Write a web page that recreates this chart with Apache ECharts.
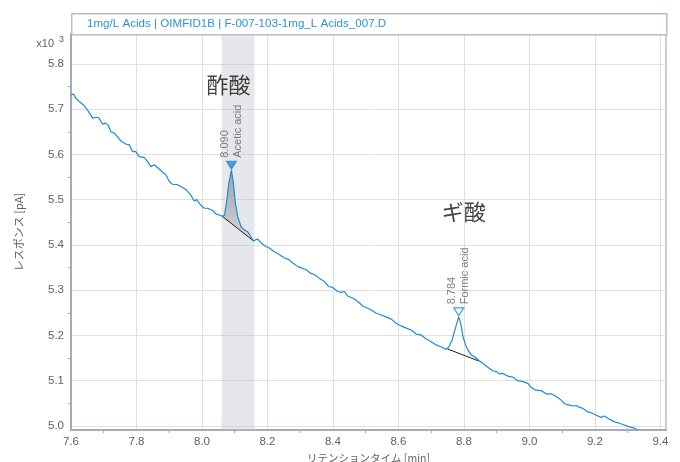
<!DOCTYPE html>
<html>
<head>
<meta charset="utf-8">
<script src="https://cdn.jsdelivr.net/npm/echarts@6/dist/echarts.min.js"></script>
<style>
  html, body { margin: 0; padding: 0; background: #ffffff; }
  #chart { width: 680px; height: 462px; }
</style>
</head>
<body>
<div id="chart"></div>
<script>
// FID chromatogram, 1mg/L acids standard (response in pA x10^3)
const retentionTime = [
  7.600, 7.608, 7.615, 7.625, 7.640, 7.653, 7.666, 7.679, 7.686, 7.696,
  7.706, 7.714, 7.722, 7.732, 7.742, 7.752, 7.767, 7.778, 7.788, 7.798,
  7.808, 7.824, 7.834, 7.844, 7.854, 7.864, 7.879, 7.890, 7.900, 7.910,
  7.925, 7.941, 7.951, 7.966, 7.976, 7.984, 7.996, 8.007, 8.017, 8.033,
  8.043, 8.053, 8.062, 8.069, 8.076, 8.082, 8.090, 8.096, 8.102, 8.109,
  8.120, 8.130, 8.140, 8.150, 8.157, 8.170, 8.181, 8.196, 8.206, 8.221,
  8.237, 8.252, 8.267, 8.277, 8.293, 8.308, 8.318, 8.333, 8.344, 8.359,
  8.374, 8.387, 8.399, 8.405, 8.415, 8.425, 8.435, 8.445, 8.461, 8.476,
  8.491, 8.506, 8.517, 8.532, 8.547, 8.562, 8.578, 8.593, 8.608, 8.624,
  8.639, 8.654, 8.669, 8.685, 8.700, 8.715, 8.730, 8.746, 8.754, 8.764,
  8.775, 8.784, 8.790, 8.797, 8.805, 8.812, 8.822, 8.832, 8.847, 8.863,
  8.878, 8.888, 8.898, 8.908, 8.919, 8.934, 8.949, 8.964, 8.980, 8.995,
  9.005, 9.020, 9.036, 9.051, 9.066, 9.082, 9.097, 9.107, 9.122, 9.132,
  9.143, 9.153, 9.163, 9.178, 9.193, 9.209, 9.219, 9.229, 9.244, 9.260,
  9.275, 9.290, 9.305, 9.321, 9.331
];
const response = [
  5.732, 5.733, 5.724, 5.717, 5.708, 5.695, 5.680, 5.682, 5.680, 5.667,
  5.669, 5.664, 5.650, 5.647, 5.639, 5.630, 5.623, 5.621, 5.606, 5.606,
  5.595, 5.593, 5.584, 5.573, 5.577, 5.571, 5.561, 5.555, 5.540, 5.534,
  5.533, 5.527, 5.522, 5.510, 5.497, 5.500, 5.488, 5.481, 5.481, 5.476,
  5.468, 5.466, 5.463, 5.466, 5.499, 5.536, 5.565, 5.536, 5.492, 5.463,
  5.439, 5.433, 5.429, 5.417, 5.409, 5.413, 5.404, 5.396, 5.393, 5.385,
  5.378, 5.371, 5.367, 5.360, 5.352, 5.348, 5.345, 5.337, 5.334, 5.326,
  5.319, 5.308, 5.306, 5.302, 5.297, 5.295, 5.297, 5.287, 5.282, 5.275,
  5.265, 5.260, 5.256, 5.249, 5.245, 5.241, 5.236, 5.227, 5.221, 5.216,
  5.212, 5.203, 5.201, 5.192, 5.186, 5.179, 5.175, 5.169, 5.175, 5.190,
  5.219, 5.241, 5.227, 5.197, 5.179, 5.168, 5.157, 5.153, 5.144, 5.135,
  5.127, 5.122, 5.120, 5.115, 5.116, 5.110, 5.108, 5.100, 5.098, 5.094,
  5.085, 5.079, 5.078, 5.071, 5.071, 5.065, 5.057, 5.049, 5.046, 5.044,
  5.045, 5.041, 5.039, 5.031, 5.028, 5.022, 5.019, 5.022, 5.015, 5.009,
  5.006, 5.002, 4.998, 4.995, 4.991
];

// identified peaks
const peakNames = ['Acetic acid', 'Formic acid'];
const peakNamesJa = ['酢酸', 'ギ酸'];
const peakRT = [8.090, 8.784];
const peakApex = [5.565, 5.241];
// integration baselines [start, end] per peak
const baselineStart = [[8.062, 5.463], [8.750, 5.170]];
const baselineEnd = [[8.157, 5.409], [8.845, 5.1435]];
// highlighted retention window
const highlightWindow = [8.06, 8.16];

// axis ticks
const xTicks = [7.6, 7.8, 8.0, 8.2, 8.4, 8.6, 8.8, 9.0, 9.2, 9.4];
const xMinorTicks = [7.7, 7.9, 8.1, 8.3, 8.5, 8.7, 8.9, 9.1, 9.3];
const yTicks = [5.0, 5.1, 5.2, 5.3, 5.4, 5.5, 5.6, 5.7, 5.8];
const yMinorTicks = [5.05, 5.15, 5.25, 5.35, 5.45, 5.55, 5.65, 5.75];

const trace = retentionTime.map((t, i) => [t, response[i]]);
const aceticArea = trace.filter(p => p[0] >= baselineStart[0][0] && p[0] <= baselineEnd[0][0]);

const FONT = '"Liberation Sans", Arial, sans-serif';
const JP_FONT = '"Noto Sans CJK JP", ' + FONT;
const LABEL_GREY = '#5f6164';
const FRAME = '#b7bdca';
const AXIS = '#a3aab9';
const BLUE = '#1f8ad6';

const chart = echarts.init(document.getElementById('chart'), null, { renderer: 'canvas' });

const option = {
  animation: false,
  backgroundColor: '#ffffff',
  textStyle: { fontFamily: FONT },
  grid: {
    left: 71, right: 14, top: 34, bottom: 32,
    outerBoundsMode: 'none', containLabel: false,
    show: true, borderColor: FRAME, borderWidth: 1.5, backgroundColor: 'transparent'
  },
  graphic: [
    {
      type: 'rect', left: 71, top: 13, z: 10,
      shape: { width: 595, height: 21 },
      style: { fill: '#ffffff', stroke: FRAME, lineWidth: 1.5 }
    },
    {
      type: 'text', x: 87, y: 24, z: 11,
      style: {
        text: '1mg/L Acids | OIMFID1B | F-007-103-1mg_L Acids_007.D',
        fill: '#2b92d9', font: '11.6px ' + FONT, verticalAlign: 'middle'
      }
    },
    {
      type: 'text', x: 54, y: 44, z: 11,
      style: { text: 'x10', fill: LABEL_GREY, font: '11px ' + FONT, align: 'right', verticalAlign: 'middle' }
    },
    {
      type: 'text', x: 59, y: 40, z: 11,
      style: { text: '3', fill: LABEL_GREY, font: '9px ' + FONT, align: 'left', verticalAlign: 'middle' }
    }
  ],
  xAxis: [
    {
      type: 'value', min: 7.6, max: 9.417,
      name: 'リテンションタイム [min]', nameLocation: 'middle', nameGap: 19,
      nameTextStyle: { color: LABEL_GREY, fontSize: 10.5, fontFamily: JP_FONT },
      axisLine: { show: true, onZero: false, lineStyle: { color: AXIS, width: 2 } },
      axisTick: { show: true, length: 0, customValues: xTicks },
      axisLabel: {
        customValues: xTicks, color: LABEL_GREY, fontSize: 11.5, margin: 6,
        formatter: v => v.toFixed(1)
      },
      splitLine: { show: true, lineStyle: { color: '#e0e0e0', width: 1 } }
    },
    {
      type: 'value', min: 7.6, max: 9.417, position: 'bottom',
      axisLine: { show: false },
      axisTick: { show: true, length: 3, customValues: xMinorTicks, lineStyle: { color: AXIS } },
      axisLabel: { show: false },
      splitLine: { show: false }
    }
  ],
  yAxis: [
    {
      type: 'value', min: 4.991, max: 5.866,
      name: 'レスポンス [pA]', nameLocation: 'middle', nameGap: 47, nameRotate: 90,
      nameTextStyle: { color: LABEL_GREY, fontSize: 11, fontFamily: JP_FONT },
      axisLine: { show: true, onZero: false, lineStyle: { color: AXIS, width: 2 } },
      axisTick: { show: true, length: 0, customValues: yTicks },
      axisLabel: {
        customValues: yTicks, color: LABEL_GREY, fontSize: 11.5, margin: 7,
        formatter: v => v.toFixed(1)
      },
      splitLine: { show: true, lineStyle: { color: '#e0e0e0', width: 1 } }
    },
    {
      type: 'value', min: 4.991, max: 5.866, position: 'left',
      axisLine: { show: false },
      axisTick: { show: true, length: 3, customValues: yMinorTicks, lineStyle: { color: AXIS } },
      axisLabel: { show: false },
      splitLine: { show: false }
    }
  ],
  series: [
    {
      // highlighted window behind the trace
      type: 'line', data: [], z: 1, silent: true,
      markArea: {
        silent: true,
        itemStyle: { color: 'rgba(190, 195, 202, 0.4)' },
        data: [[{ xAxis: highlightWindow[0] }, { xAxis: highlightWindow[1] }]]
      }
    },
    {
      // integrated area of the acetic acid peak
      type: 'custom', z: 3, silent: true,
      data: [[peakRT[0], peakApex[0]]],
      renderItem: (params, api) => ({
        type: 'polygon',
        shape: { points: aceticArea.map(p => api.coord(p)) },
        style: {
          fill: new echarts.graphic.LinearGradient(0, 0, 0, 1, [
            { offset: 0, color: '#9ea3a8' },
            { offset: 1, color: '#d3d6d9' }
          ])
        }
      })
    },
    {
      type: 'line', z: 4, data: [baselineStart[0], baselineEnd[0]],
      symbol: 'none', lineStyle: { color: '#222', width: 1 }, silent: true
    },
    {
      type: 'line', z: 4, data: [baselineStart[1], baselineEnd[1]],
      symbol: 'none', lineStyle: { color: '#222', width: 1 }, silent: true
    },
    {
      type: 'line', z: 5, data: trace, symbol: 'none',
      lineStyle: { color: BLUE, width: 1.2 }
    },
    {
      // peak markers with retention time and compound name
      type: 'scatter', z: 6,
      symbol: 'path://M0,0 L10,0 L5,8 Z',
      symbolSize: [10, 8], symbolOffset: [0, -5],
      data: peakRT.map((t, i) => ({
        value: [t, peakApex[i]],
        name: peakNames[i],
        itemStyle: i === 0
          ? { color: BLUE, borderColor: BLUE, borderWidth: 1 }
          : { color: '#ffffff', borderColor: BLUE, borderWidth: 1.2 }
      })),
      label: {
        show: true, position: 'top', distance: 3, rotate: 90,
        align: 'left', verticalAlign: 'middle',
        color: LABEL_GREY, fontSize: 11, lineHeight: 13,
        formatter: p => p.value[0].toFixed(3) + '\n' + p.name
      }
    },
    {
      // Japanese compound names above each peak
      type: 'scatter', z: 6, symbolSize: 0, silent: true,
      data: peakRT.map((t, i) => ({
        value: [t, peakApex[i]],
        name: peakNamesJa[i],
        label: { offset: i === 0 ? [-3, -86] : [5, -105] }
      })),
      label: {
        show: true, position: 'inside',
        color: '#111111', fontSize: 22,
        fontFamily: '"Noto Sans CJK JP", sans-serif',
        formatter: p => p.name
      }
    }
  ]
};

chart.setOption(option);
</script>
</body>
</html>
